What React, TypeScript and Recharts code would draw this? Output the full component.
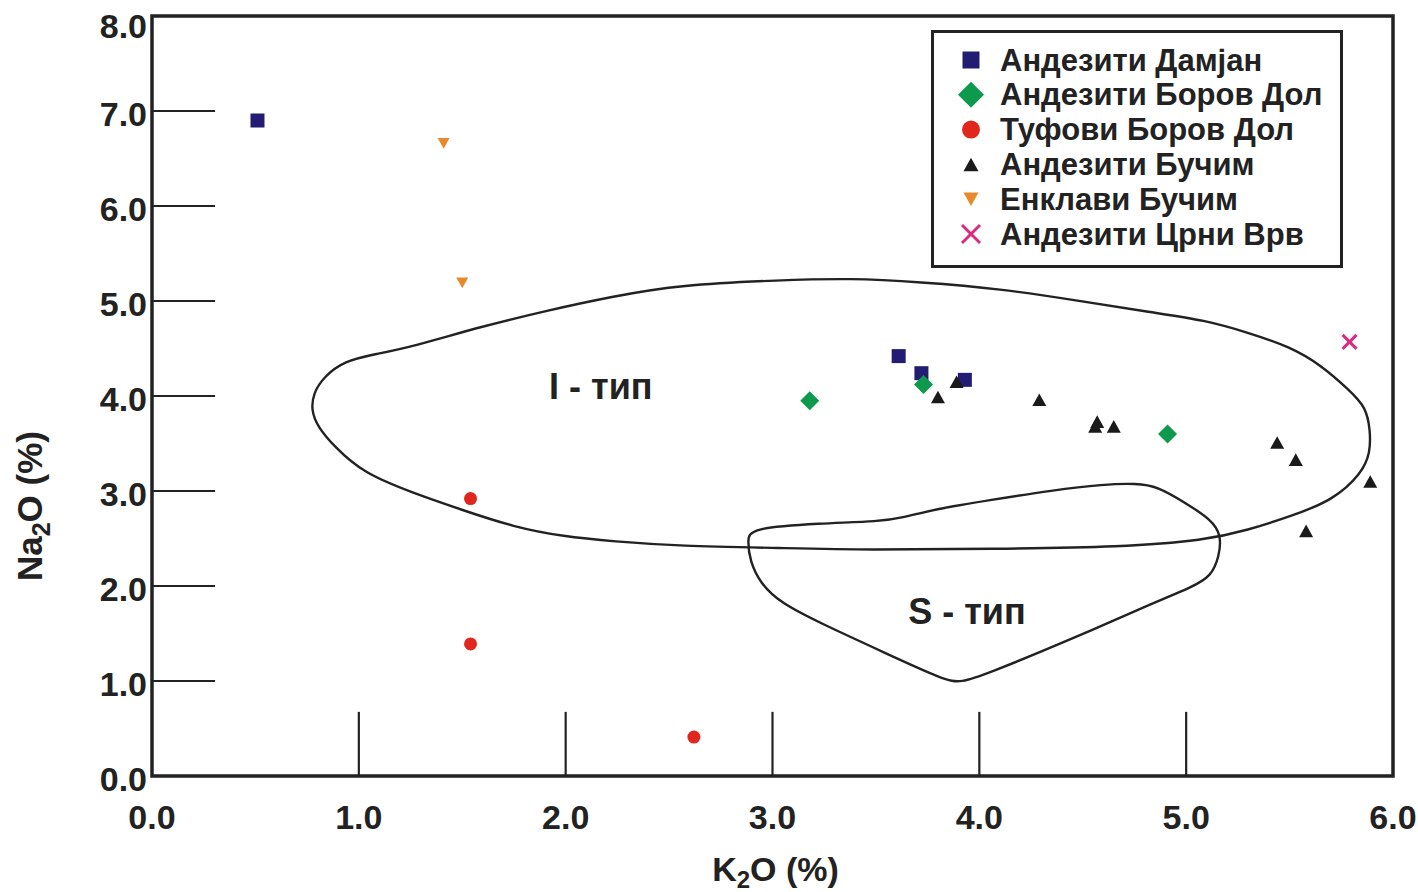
import React from "react";
import {
  ScatterChart,
  Scatter,
  XAxis,
  YAxis,
  ReferenceLine,
  ReferenceArea,
  ReferenceDot,
  Legend,
} from "recharts";

// K2O (x) and Na2O (y) values
const damjanK = [0.51, 3.61, 3.72, 3.93];
const damjanNa = [6.9, 4.42, 4.24, 4.17];

const borovDolK = [3.18, 3.73, 4.91];
const borovDolNa = [3.95, 4.12, 3.6];

const tufoviK = [1.54, 1.54, 2.62];
const tufoviNa = [2.92, 1.39, 0.41];

const bucimK = [3.8, 3.89, 4.29, 4.56, 4.57, 4.65, 5.44, 5.53, 5.89, 5.58];
const bucimNa = [3.99, 4.15, 3.96, 3.68, 3.73, 3.68, 3.51, 3.33, 3.1, 2.58];

const enklaviK = [1.41, 1.5];
const enklaviNa = [6.66, 5.19];

const crniVrvK = [5.79];
const crniVrvNa = [4.57];

// outlines of the I-type and S-type fields
const iTypeK = [
  0.77, 0.78, 0.83, 0.93, 1.08, 1.26, 1.59, 1.91, 2.23, 2.55, 3.04, 3.38, 3.71,
  4.1, 4.49, 4.83, 5.09, 5.31, 5.5, 5.65, 5.79, 5.87, 5.89, 5.89, 5.85, 5.71,
  5.5, 5.3, 5.09, 4.69, 4.07, 3.46, 3.04, 2.55, 2.23, 1.99, 1.75, 1.5, 1.26,
  1.02, 0.88, 0.8,
];
const iTypeNa = [
  3.85, 4.03, 4.2, 4.37, 4.44, 4.52, 4.73, 4.9, 5.05, 5.17, 5.22, 5.24, 5.2,
  5.13, 5.0, 4.88, 4.8, 4.66, 4.52, 4.33, 4.06, 3.88, 3.64, 3.4, 3.19, 2.9,
  2.73, 2.59, 2.48, 2.41, 2.39, 2.38, 2.4, 2.42, 2.47, 2.52, 2.62, 2.8, 2.98,
  3.19, 3.47, 3.68,
];

const sTypeK = [
  2.89, 3.23, 3.52, 3.63, 3.79, 4.04, 4.36, 4.6, 4.76, 4.86, 5.0, 5.12, 5.17,
  5.16, 5.12, 5.03, 4.84, 4.36, 4.04, 3.91, 3.83, 3.55, 3.23, 3.04, 2.94, 2.89,
  2.88,
];
const sTypeNa = [
  2.61, 2.66, 2.68, 2.72, 2.81, 2.9, 3.01, 3.07, 3.08, 3.05, 2.87, 2.7, 2.54,
  2.31, 2.1, 1.99, 1.82, 1.36, 1.08, 0.98, 1.01, 1.29, 1.61, 1.82, 2.03, 2.27,
  2.48,
];

const regionNames = ["I - тип", "S - тип"];
const regionK = [2.17, 3.94];
const regionNa = [4.1, 1.73];

const xTicks = [0, 1, 2, 3, 4, 5, 6];
const yTicks = [0, 1, 2, 3, 4, 5, 6, 7, 8];
const innerXTicks = [1, 2, 3, 4, 5];
const innerYTicks = [1, 2, 3, 4, 5, 6, 7];

const seriesNames = [
  "Андезити Дамјан",
  "Андезити Боров Дол",
  "Туфови Боров Дол",
  "Андезити Бучим",
  "Енклави Бучим",
  "Андезити Црни Врв",
];
const seriesColors = ["#221c72", "#0e9a4c", "#e1261d", "#1a1a1a", "#e8892b", "#da2b7e"];
const seriesKinds = ["square", "diamond", "circle", "triangle", "down", "x"];
const seriesK = [damjanK, borovDolK, tufoviK, bucimK, enklaviK, crniVrvK];
const seriesNa = [damjanNa, borovDolNa, tufoviNa, bucimNa, enklaviNa, crniVrvNa];

const chartSizes = [14, 19, 13, 14, 12, 14];
const legendSizes = [17, 26, 18, 15, 15, 18];

const FONT = "'Liberation Sans', Arial, Helvetica, sans-serif";
const INK = "#222";

const toPoints = (k: number[], na: number[]) => k.map((v, i) => ({ k: v, na: na[i] }));

function Marker({ kind, cx, cy, s, color }: { kind: string; cx: number; cy: number; s: number; color: string }) {
  const h = s / 2;
  switch (kind) {
    case "square":
      return <rect x={cx - h} y={cy - h} width={s} height={s} fill={color} />;
    case "diamond":
      return <polygon points={`${cx},${cy - h} ${cx + h},${cy} ${cx},${cy + h} ${cx - h},${cy}`} fill={color} />;
    case "circle":
      return <circle cx={cx} cy={cy} r={h} fill={color} />;
    case "triangle":
      return (
        <polygon
          points={`${cx},${cy - h * 0.9} ${cx + h},${cy + h * 0.9} ${cx - h},${cy + h * 0.9}`}
          fill={color}
        />
      );
    case "down":
      return (
        <polygon
          points={`${cx - h},${cy - h * 0.9} ${cx + h},${cy - h * 0.9} ${cx},${cy + h * 0.9}`}
          fill={color}
        />
      );
    default:
      return (
        <g stroke={color} strokeWidth={3}>
          <line x1={cx - h} y1={cy - h} x2={cx + h} y2={cy + h} />
          <line x1={cx - h} y1={cy + h} x2={cx + h} y2={cy - h} />
        </g>
      );
  }
}

function LegendBox() {
  return (
    <svg width={412} height={238} style={{ display: "block" }}>
      <rect x={1.5} y={1.5} width={409} height={235} fill="#fff" stroke={INK} strokeWidth={3} />
      {seriesNames.map((name, i) => {
        const cy = 30 + i * 34.8;
        return (
          <g key={name}>
            <Marker kind={seriesKinds[i]} cx={40} cy={cy} s={legendSizes[i]} color={seriesColors[i]} />
            <text x={69} y={cy + 10.5} fontFamily={FONT} fontWeight="bold" fontSize={31} fill={INK}>
              {name}
            </text>
          </g>
        );
      })}
    </svg>
  );
}

function XTitle(props: any) {
  const vb = props.viewBox || { x: 144, y: 768, width: 1241, height: 116 };
  return (
    <text x={vb.x + vb.width / 2 + 3} y={vb.y + 105} textAnchor="middle" fontFamily={FONT} fontWeight="bold" fontSize={34} fill={INK}>
      K
      <tspan fontSize={24} dy={7}>2</tspan>
      <tspan dy={-7}>O (%)</tspan>
    </text>
  );
}

function YTitle(props: any) {
  const vb = props.viewBox || { x: 0, y: 8, width: 144, height: 760 };
  const x = vb.x + 34;
  const y = vb.y + 490;
  return (
    <text
      x={x}
      y={y}
      transform={`rotate(-90, ${x}, ${y})`}
      textAnchor="middle"
      fontFamily={FONT}
      fontWeight="bold"
      fontSize={35}
      fill={INK}
    >
      Na
      <tspan fontSize={25} dy={8}>2</tspan>
      <tspan dy={-8}>O (%)</tspan>
    </text>
  );
}

function YTick(props: any) {
  const { x, y, payload } = props;
  // the top label sits a little lower in the original
  const dy = payload.value === 8 ? 22 : 15;
  return (
    <text x={x} y={y} dy={dy} textAnchor="end" fontFamily={FONT} fontWeight="bold" fontSize={34} fill={INK}>
      {Number(payload.value).toFixed(1)}
    </text>
  );
}

const tickStyle = { fontSize: 34, fontWeight: "bold", fill: INK, fontFamily: FONT };

export default function App() {
  return (
    <div style={{ position: "absolute", left: 0, top: 0, width: 1418, height: 892, overflow: "hidden", background: "#fff" }}>
      <div style={{ position: "absolute", left: 8, top: 8 }}>
        <ScatterChart width={1410} height={884} margin={{ top: 8, right: 25, bottom: 0, left: 0 }}>
          <XAxis
            type="number"
            dataKey="k"
            domain={[0, 6]}
            ticks={xTicks}
            tickFormatter={(v: number) => v.toFixed(1)}
            axisLine={false}
            tickLine={false}
            tickSize={0}
            tickMargin={29}
            height={116}
            tick={tickStyle}
            interval={0}
            label={<XTitle />}
          />
          <YAxis
            type="number"
            dataKey="na"
            domain={[0, 8]}
            ticks={yTicks}
            axisLine={false}
            tickLine={false}
            tickSize={0}
            tickMargin={5}
            width={144}
            tick={<YTick />}
            interval={0}
            label={<YTitle />}
          />
          <ReferenceArea x1={0} x2={6} y1={0} y2={8} fill="none" fillOpacity={0} stroke={INK} strokeWidth={3.5} />
          {innerYTicks.map((v) => (
            <ReferenceLine key={`y${v}`} segment={[{ x: 0, y: v }, { x: 0.305, y: v }]} stroke={INK} strokeWidth={2.2} />
          ))}
          {innerXTicks.map((v) => (
            <ReferenceLine key={`x${v}`} segment={[{ x: v, y: 0 }, { x: v, y: 0.675 }]} stroke={INK} strokeWidth={2.2} />
          ))}
          <Scatter
            data={toPoints(iTypeK, iTypeNa)}
            line={{ stroke: INK, strokeWidth: 2.4 }}
            lineJointType="basisClosed"
            shape={() => <g />}
            legendType="none"
            isAnimationActive={false}
          />
          <Scatter
            data={toPoints(sTypeK, sTypeNa)}
            line={{ stroke: INK, strokeWidth: 2.4 }}
            lineJointType="basisClosed"
            shape={() => <g />}
            legendType="none"
            isAnimationActive={false}
          />
          {regionNames.map((name, i) => (
            <ReferenceDot
              key={name}
              x={regionK[i]}
              y={regionNa[i]}
              r={0}
              fill="none"
              stroke="none"
              label={{ value: name, position: "center", fontSize: 36, fontWeight: "bold", fill: INK, fontFamily: FONT }}
            />
          ))}
          {seriesNames.map((name, i) => (
            <Scatter
              key={name}
              name={name}
              data={toPoints(seriesK[i], seriesNa[i])}
              fill={seriesColors[i]}
              shape={(p: any) => (
                <Marker kind={seriesKinds[i]} cx={p.cx} cy={p.cy} s={chartSizes[i]} color={seriesColors[i]} />
              )}
              isAnimationActive={false}
            />
          ))}
          <Legend
            layout="vertical"
            align="center"
            verticalAlign="middle"
            content={() => <LegendBox />}
            wrapperStyle={{ position: "absolute", left: 923, top: 22, width: 412, height: 238 }}
          />
        </ScatterChart>
      </div>
    </div>
  );
}
